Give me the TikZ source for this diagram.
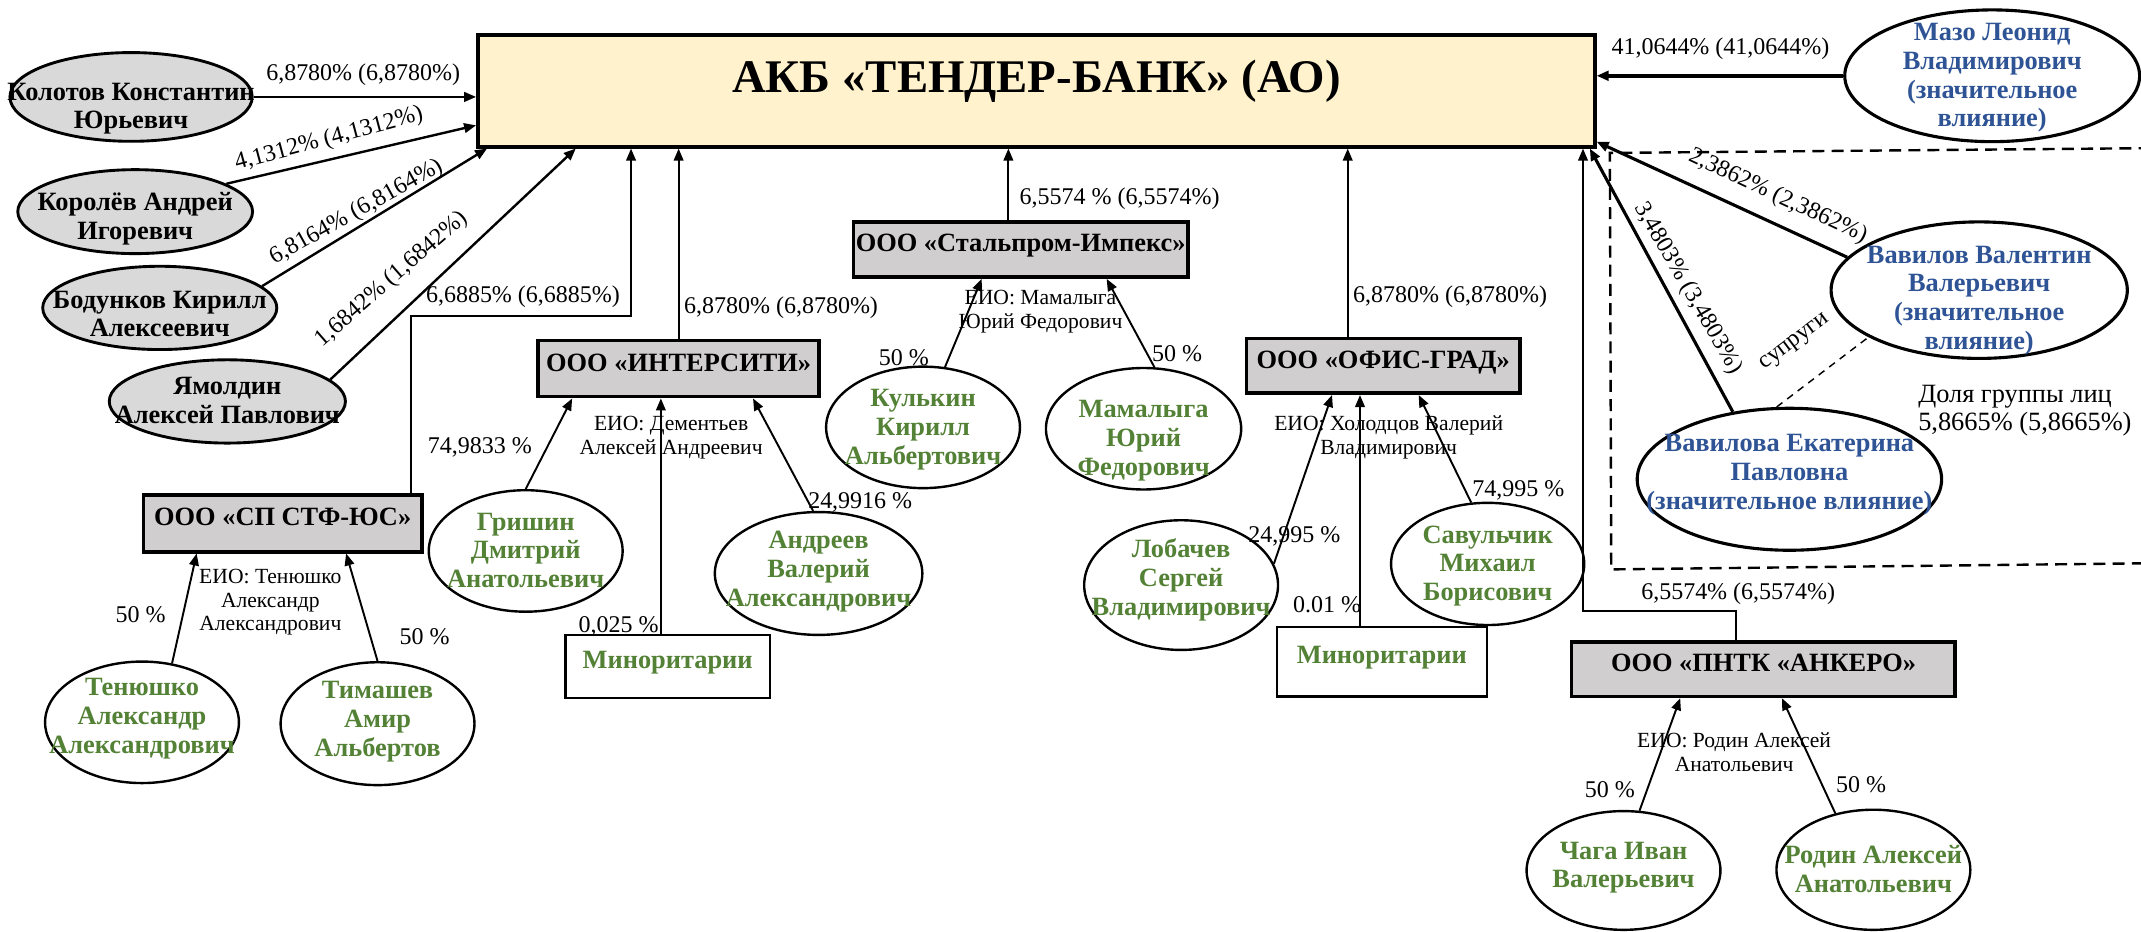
\documentclass[tikz,border=0pt]{standalone}
\usepackage{fontspec}
\setmainfont{Liberation Serif}
\usetikzlibrary{arrows.meta,shapes.geometric}

\definecolor{namegreen}{HTML}{538135}
\definecolor{nameblue}{HTML}{2F5496}
\definecolor{boxgray}{HTML}{D0CECE}
\definecolor{ovalgray}{HTML}{D9D9D9}
\definecolor{bankfill}{HTML}{FFF2CC}

% text set over an oval without making the oval grow (optional: extra drop)
\newcommand{\ovaltext}[2][0pt]{\smash{\makebox[0pt]{\raisebox{\dimexpr-0.33em-#1\relax}{\begin{tabular}{@{}c@{}}#2\end{tabular}}}}}

\begin{document}
\begin{tikzpicture}[x=0.02cm, y=-0.02cm,
    bankbox/.style={draw, line width=1.6pt, fill=bankfill, inner sep=0pt,
      minimum width=16.36cm, minimum height=1.636cm,
      font=\fontsize{19.5}{22}\selectfont\bfseries, text height=0.48cm, text depth=0.42cm},
    firm/.style={draw, line width=1.5pt, fill=boxgray, inner sep=0pt,
      font=\fontsize{11}{12}\selectfont\bfseries, text height=0.28cm, text depth=0.21cm},
    minor/.style={draw, line width=1pt, fill=white, inner sep=0pt, text=namegreen,
      font=\fontsize{11}{12}\selectfont\bfseries, text height=0.28cm, text depth=0.21cm},
    holder/.style={ellipse, draw, line width=1.2pt, fill=ovalgray, inner sep=0pt,
      font=\fontsize{11}{12}\selectfont\bfseries},
    person/.style={ellipse, draw, line width=1pt, fill=white, inner sep=0pt,
      text=namegreen, font=\fontsize{11}{12}\selectfont\bfseries},
    major/.style={ellipse, draw, line width=1.3pt, fill=white, inner sep=0pt,
      text=nameblue, font=\fontsize{11}{12}\selectfont\bfseries},
    pct/.style={inner sep=0pt, font=\fontsize{10}{12}\selectfont},
    eio/.style={inner sep=0pt, align=center, font=\fontsize{9}{10}\selectfont},
    share/.style={-{Triangle[length=5pt,width=4pt]}, line width=0.8pt},
    groupline/.style={dash pattern=on 5pt off 3pt, line width=1pt},
    spouse/.style={dash pattern=on 3pt off 2.5pt, line width=0.6pt}]

  \useasboundingbox (0,0) rectangle (1568,682);

  % Draw the bank
  \node[bankbox] (bank) at (759,66.5) {АКБ «ТЕНДЕР-БАНК» (АО)};

  % Draw the shareholders on the left
  \node[holder, minimum width=3.55cm, minimum height=1.3cm] (kolotov) at (96,71)
    {\ovaltext[4pt]{Колотов Константин\\Юрьевич}};
  \node[holder, minimum width=3.44cm, minimum height=1.23cm] (korolev) at (99,155)
    {\ovaltext[2.3pt]{Королёв Андрей\\Игоревич}};
  \node[holder, minimum width=3.43cm, minimum height=1.22cm] (bodunkov) at (117,225.5)
    {\ovaltext[2.8pt]{Бодунков Кирилл\\Алексеевич}};
  \node[holder, minimum width=3.46cm, minimum height=1.22cm] (yamoldin) at (166.5,294)
    {\ovaltext{Ямолдин\\Алексей Павлович}};

  % Draw the shareholders on the right
  \node[major, minimum width=4.32cm, minimum height=1.93cm] (mazo) at (1459,55.5)
    {\ovaltext{Мазо Леонид\\Владимирович\\(значительное\\влияние)}};
  \node[major, minimum width=4.34cm, minimum height=2.0cm] (vavilov) at (1449.5,212.5)
    {\ovaltext[3.4pt]{Вавилов Валентин\\Валерьевич\\(значительное\\влияние)}};
  \node[major, minimum width=4.46cm, minimum height=2.08cm] (vavilova) at (1310.5,351)
    {\ovaltext[-2.8pt]{Вавилова Екатерина\\Павловна\\(значительное влияние)}};

  % Draw the companies
  \node[firm, minimum width=4.08cm, minimum height=0.83cm] (sp) at (207,383.3) {ООО «СП СТФ-ЮС»};
  \node[firm, minimum width=4.12cm, minimum height=0.82cm] (intersiti) at (497,270) {ООО «ИНТЕРСИТИ»};
  \node[firm, minimum width=4.9cm, minimum height=0.81cm] (stalprom) at (747.5,182.7) {ООО «Стальпром-Импекс»};
  \node[firm, minimum width=4.0cm, minimum height=0.8cm] (ofis) at (1013,268) {ООО «ОФИС-ГРАД»};
  \node[firm, minimum width=5.62cm, minimum height=0.8cm] (pntk) at (1291.5,490) {ООО «ПНТК «АНКЕРО»};
  \node[minor, minimum width=3.0cm, minimum height=0.92cm] (minor1) at (489,488) {Миноритарии};
  \node[minor, minimum width=3.08cm, minimum height=1.02cm] (minor2) at (1012,484.5) {Миноритарии};

  % Draw the owners of the companies
  \node[person, minimum width=2.84cm, minimum height=1.78cm] (tenyushko) at (104,529)
    {\ovaltext[-2.3pt]{Тенюшко\\Александр\\Александрович}};
  \node[person, minimum width=2.84cm, minimum height=1.8cm] (timashev) at (276.5,530)
    {\ovaltext[-1.7pt]{Тимашев\\Амир\\Альбертов}};
  \node[person, minimum width=2.84cm, minimum height=1.78cm] (grishin) at (385,403.5)
    {\ovaltext{Гришин\\Дмитрий\\Анатольевич}};
  \node[person, minimum width=3.04cm, minimum height=1.8cm] (andreev) at (599.5,420)
    {\ovaltext[-1.7pt]{Андреев\\Валерий\\Александрович}};
  \node[person, minimum width=2.84cm, minimum height=1.78cm] (kulkin) at (676,313)
    {\ovaltext{Кулькин\\Кирилл\\Альбертович}};
  \node[person, minimum width=2.86cm, minimum height=1.78cm] (mamalyga) at (837.5,314)
    {\ovaltext[4pt]{Мамалыга\\Юрий\\Федорович}};
  \node[person, minimum width=2.84cm, minimum height=1.9cm] (lobachev) at (865,428.5)
    {\ovaltext[-2.8pt]{Лобачев\\Сергей\\Владимирович}};
  \node[person, minimum width=2.83cm, minimum height=1.79cm] (savulchik) at (1089.5,413)
    {\ovaltext{Савульчик\\Михаил\\Борисович}};
  \node[person, minimum width=2.84cm, minimum height=1.74cm] (chaga) at (1189,637.5)
    {\ovaltext[-2pt]{Чага Иван\\Валерьевич}};
  \node[person, minimum width=2.84cm, minimum height=1.76cm] (rodin) at (1372,637)
    {\ovaltext{Родин Алексей\\Анатольевич}};

  % Draw the group of related persons
  \draw[groupline] (1575,108.5) -- (1179,112) -- (1180,417) -- (1575,412.5);

  % Draw the shares in the bank
  \draw[share, line width=1pt] (kolotov) -- (kolotov -| bank.west);
  \draw[share, line width=1pt] (korolev.17) -- ([yshift=0.34cm]bank.south west);
  \draw[share, line width=1pt] (bodunkov.12) -- ([xshift=0.16cm]bank.south west);
  \draw[share, line width=1pt] (yamoldin.12) -- ([xshift=1.46cm]bank.south west);
  \draw[share] ([xshift=-0.18cm]sp.north east) -- ++(0,-129.5) -| ([xshift=2.27cm]bank.south west);
  \draw[share] (intersiti.north) -- (intersiti.north |- bank.south);
  \draw[share] ([xshift=-0.18cm]stalprom.north) -- ([xshift=-0.18cm]stalprom.north |- bank.south);
  \draw[share] ([xshift=-0.52cm]ofis.north) -- ([xshift=-0.52cm]ofis.north |- bank.south);
  \draw[share] ([xshift=-0.4cm]pntk.north) -- ++(0,-21.3) -| ([xshift=-0.2cm]bank.south east);
  \draw[share, line width=1.6pt] (mazo) -- (mazo -| bank.east);
  \draw[share, line width=1.3pt] (vavilov.166) -- ([yshift=0.1cm]bank.south east);
  \draw[share, line width=1.3pt] (vavilova.130) -- ([xshift=-0.1cm]bank.south east);
  \draw[spouse] (vavilova.100) -- (vavilov.203);

  % Draw the shares in the companies
  \draw[share] (tenyushko.63) -- ([xshift=-1.26cm]sp.south);
  \draw[share] (timashev.north) -- ([xshift=0.93cm]sp.south);
  \draw[share] (grishin.north) -- ([xshift=-1.56cm]intersiti.south);
  \draw[share] ([xshift=-0.1cm]minor1.north) -- ([xshift=-0.1cm]minor1.north |- intersiti.south);
  \draw[share] (andreev.95) -- ([xshift=1.09cm]intersiti.south);
  \draw[share] (kulkin.70) -- ([xshift=-0.57cm]stalprom.south);
  \draw[share] (mamalyga.80) -- ([xshift=1.26cm]stalprom.south);
  \draw[share] (lobachev.13) -- ([xshift=-0.75cm]ofis.south);
  \draw[share] ([xshift=-0.32cm]minor2.north) -- ([xshift=-0.32cm]minor2.north |- ofis.south);
  \draw[share] (savulchik.105) -- ([xshift=0.52cm]ofis.south);
  \draw[share] (chaga.75) -- ([xshift=-1.22cm]pntk.south);
  \draw[share] (rodin.124) -- ([xshift=0.27cm]pntk.south);

  % Add the percentages
  \node[pct] (pkolotov) at (266,54.5) {6,8780\% (6,8780\%)};
  \node[pct, rotate=15] (pkorolev) at (241,102) {4,1312\% (4,1312\%)};
  \node[pct, rotate=29] (pbodunkov) at (261,155.5) {6,8164\% (6,8164\%)};
  \node[pct, rotate=41] (pyamoldin) at (287,204.5) {1,6842\% (1,6842\%)};
  \node[pct] (psp) at (383,217.5) {6,6885\% (6,6885\%)};
  \node[pct] (pintersiti) at (572,225.5) {6,8780\% (6,8780\%)};
  \node[pct] (pstalprom) at (820,145.5) {6,5574 \% (6,5574\%)};
  \node[pct] (pofis) at (1062,217.5) {6,8780\% (6,8780\%)};
  \node[pct] (ppntk) at (1273,434.5) {6,5574\% (6,5574\%)};
  \node[pct] (pmazo) at (1260,35.5) {41,0644\% (41,0644\%)};
  \node[pct, rotate=-25] (pvavilov) at (1302,144) {2,3862\% (2,3862\%)};
  \node[pct, rotate=-60] (pvavilova) at (1236,211) {3,4803\% (3,4803\%)};
  \node[pct, rotate=37] (spouses) at (1315,251) {супруги};
  \node[inner sep=0pt, align=left, anchor=west, font=\fontsize{11}{11.7}\selectfont] (groupshare)
    at (1404.5,300.7) {Доля группы лиц\\5,8665\% (5,8665\%)};

  \node[pct] (ptenyushko) at (103,450) {50 \%};
  \node[pct] (ptimashev) at (311,466) {50 \%};
  \node[pct] (pgrishin) at (351.5,328) {74,9833 \%};
  \node[pct] (pminor1) at (453,459) {0,025 \%};
  \node[pct] (pandreev) at (630,368) {24,9916 \%};
  \node[pct] (pkulkin) at (662,262) {50 \%};
  \node[pct] (pmamalyga) at (862,259) {50 \%};
  \node[pct] (plobachev) at (948,393) {24,995 \%};
  \node[pct] (pminor2) at (972,443) {0.01 \%};
  \node[pct] (psavulchik) at (1112,359) {74,995 \%};
  \node[pct] (pchaga) at (1179,578.6) {50 \%};
  \node[pct] (prodin) at (1363,575) {50 \%};

  % Add the heads of the companies
  \node[eio] (eiosp) at (198,441) {ЕИО: Тенюшко\\Александр\\Александрович};
  \node[eio] (eiointersiti) at (491.5,320.5) {ЕИО: Дементьев\\Алексей Андреевич};
  \node[eio] (eiostalprom) at (762,228) {ЕИО: Мамалыга\\Юрий Федорович};
  \node[eio] (eioofis) at (1017,320.5) {ЕИО: Холодцов Валерий\\Владимирович};
  \node[eio] (eiopntk) at (1270,551) {ЕИО: Родин Алексей\\Анатольевич};
\end{tikzpicture}
\end{document}
